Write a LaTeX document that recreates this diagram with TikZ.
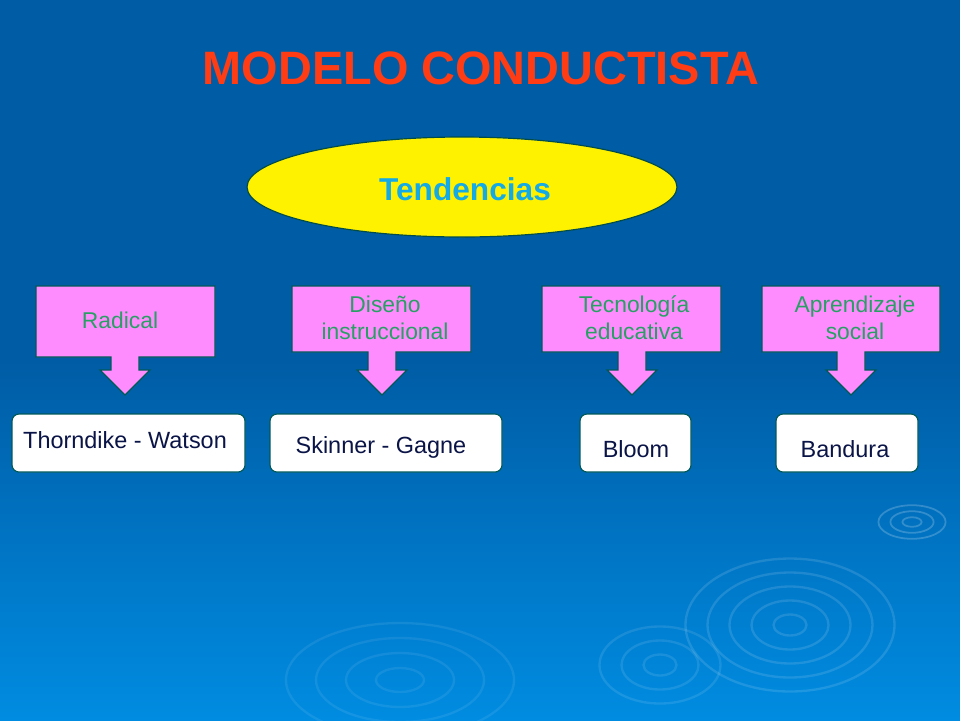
\documentclass[tikz,border=0pt]{standalone}
\usepackage{fontspec}
\setmainfont{Liberation Sans}
\begin{document}
\begin{tikzpicture}[x=0.03cm,y=-0.03cm,
  callout/.style={fill=calfill, draw=teal!70!black, line width=1pt},
  lbl/.style={text=labgreen, font=\fontsize{19.5}{23}\selectfont, align=center},
  box/.style={draw=teal!70!black, fill=white, rounded corners=6pt, line width=1pt},
  btxt/.style={text=navy, font=\fontsize{20}{24}\selectfont}]
\definecolor{calfill}{RGB}{255,140,255}
\definecolor{labgreen}{RGB}{40,160,100}
\definecolor{navy}{RGB}{10,20,70}
\definecolor{bgtop}{RGB}{0,92,165}
\definecolor{bgbot}{RGB}{0,140,225}
\definecolor{ttl}{RGB}{255,60,20}
\definecolor{tcol}{RGB}{20,170,230}
\shade[top color=bgtop, bottom color=bgbot, middle color=bgtop] (0,0) rectangle (960,720);
\useasboundingbox (0,0) rectangle (960,720);
\foreach \r in {15,35,55,75,95} {\draw[white, opacity=0.12, line width=2pt] (790,625) ellipse ({\r*1.1} and {\r*0.7});}
\foreach \r in {15,35,55} {\draw[white, opacity=0.1, line width=2pt] (660,665) ellipse ({\r*1.1} and {\r*0.7});}
\foreach \r in {20,45,70,95} {\draw[white, opacity=0.08, line width=2pt] (400,680) ellipse ({\r*1.2} and {\r*0.6});}
\foreach \r in {8,18,28} {\draw[white, opacity=0.2, line width=1.5pt] (912,522) ellipse ({\r*1.2} and {\r*0.6});}
\node (title) at (481,68) {\textcolor{ttl}{\fontsize{40}{46}\selectfont\bfseries MODELO CONDUCTISTA}};
\fill[yellow, draw=teal!60!black, line width=1pt] (462,187) ellipse (215 and 50);
\node (tend) at (465,189) {\fontsize{27}{32}\selectfont\bfseries\textcolor{tcol}{Tendencias}};
\newcommand{\mycallout}[4]{%
 \draw[callout] (#1,286) -- (#2,286) -- (#2,#3) -- (#4+14,#3) -- (#4+14,370) -- (#4+25,370) -- (#4,395) -- (#4-25,370) -- (#4-14,370) -- (#4-14,#3) -- (#1,#3) -- cycle;}
\mycallout{36}{215}{357}{125}
\mycallout{292}{471}{352}{382}
\mycallout{542}{721}{352}{632}
\mycallout{762}{940}{352}{851}
\node[lbl] (c1) at (120,320) {Radical};
\node[lbl] (c2) at (385,318) {Diseño\\instruccional};
\node[lbl] (c3) at (634,318) {Tecnología\\educativa};
\node[lbl] (c4) at (855,318) {Aprendizaje\\social};
\draw[box] (12,414) rectangle (245,472); \node[btxt] (b1) at (125,440) {Thorndike - Watson};
\draw[box] (270,414) rectangle (502,472); \node[btxt] (b2) at (381,447) {Skinner - Gagne};
\draw[box] (580,414) rectangle (691,472); \node[btxt] (b3) at (636,449) {Bloom};
\draw[box] (776,414) rectangle (918,472); \node[btxt] (b4) at (845,449) {Bandura};
\end{tikzpicture}
\end{document}
